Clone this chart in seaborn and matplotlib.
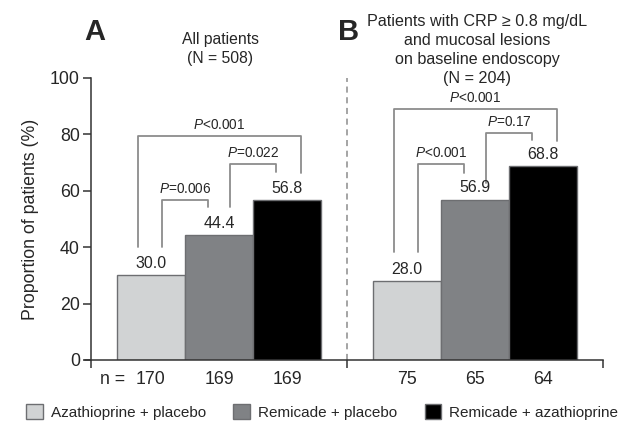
import matplotlib
matplotlib.use("Agg")
import matplotlib.pyplot as plt
import numpy as np
import pandas as pd
import seaborn as sns

# values
treatments = ["Azathioprine + placebo", "Remicade + placebo", "Remicade + azathioprine"]
panels = ["A", "B"]
panel_titles = ["All patients\n(N = 508)",
                "Patients with CRP \u2265 0.8 mg/dL\nand mucosal lesions\non baseline endoscopy\n(N = 204)"]
proportions_a = [30.0, 44.4, 56.8]
proportions_b = [28.0, 56.9, 68.8]
n_a = [170, 169, 169]
n_b = [75, 65, 64]
pvals_a = ["<0.001", "=0.006", "=0.022"]
pvals_b = ["<0.001", "<0.001", "=0.17"]

colors = ["#d1d3d4", "#808285", "#000000"]
bracket_col = "#8c8c8c"

# bracket layout per panel: (left bar, right bar, top, left foot, right foot)
bracket_layout = [
    [(0, 2, 79.4, 40.1, 66.4), (0, 1, 56.7, 40.1, 54.3), (1, 2, 69.5, 54.3, 66.6)],
    [(0, 2, 89.0, 38.3, 77.8), (0, 1, 69.5, 38.3, 66.3), (1, 2, 80.5, 62.8, 78.0)],
]

sns.set_style("ticks")
plt.rcParams["font.family"] = ["Liberation Sans", "DejaVu Sans"]
plt.rcParams["mathtext.fontset"] = "custom"
plt.rcParams["mathtext.rm"] = "Liberation Sans"
plt.rcParams["mathtext.it"] = "Liberation Sans:italic"

# build the long table, bars sit at k + 0.875 inside each half of width 3.75
rows = []
for g, (vals, ns) in enumerate([(proportions_a, n_a), (proportions_b, n_b)]):
    for k, (t, v, n) in enumerate(zip(treatments, vals, ns)):
        rows.append({"panel": panels[g], "treatment": t, "value": v, "n": n,
                     "pos": g * 3.75 + k + 0.875})
df = pd.DataFrame(rows)

fig = plt.figure(figsize=(6.28, 4.32), dpi=100)
ax = fig.add_axes([85 / 628, 1 - 360 / 432, (603 - 85) / 628, (360 - 78) / 432])

sns.barplot(data=df, x="pos", y="value", hue="treatment", hue_order=treatments,
            palette=colors, native_scale=True, dodge=False, width=1.0,
            edgecolor="#6d6e71", linewidth=1.0, saturation=1, ax=ax)

for cont in ax.containers:
    ax.bar_label(cont, fmt="%.1f", padding=3, fontsize=11.5)

ax.set_xlim(-0.088, 7.5)
ax.set_ylim(0, 100)
ax.spines["top"].set_visible(False)
ax.spines["right"].set_visible(False)
ax.spines["left"].set_position(("data", 0))
ax.spines["left"].set_bounds(0, 100)
for s in ["left", "bottom"]:
    ax.spines[s].set_color("#333333")
    ax.spines[s].set_linewidth(1.1)

ax.set_yticks(np.arange(0, 101, 20))
ax.tick_params(axis="y", labelsize=12.8, length=6, width=1.1, color="#333333", pad=2)
ax.set_xticks(df["pos"])
ax.set_xticklabels(df["n"].astype(str))
ax.tick_params(axis="x", which="major", length=0, pad=8, labelsize=12.8)
ax.set_xticks([0, 3.75, 7.5], minor=True)
ax.tick_params(axis="x", which="minor", length=6, width=1.1, color="#333333", direction="out")
ax.text(0.875 - 0.3, -4.0, "n = ", ha="right", va="top", fontsize=12.8)

ax.set_xlabel("")
ax.set_ylabel("Proportion of patients (%)", fontsize=12.8, labelpad=8)

# dashed separator between the two panels
ax.axvline(3.75, color="#8c8c8c", lw=1.1, ls=(0, (4, 3)), zorder=0)

# significance brackets
for g, (layout, pv) in enumerate(zip(bracket_layout, [pvals_a, pvals_b])):
    for (i, j, top, yl, yr), lab in zip(layout, pv):
        outer = (j - i) == 2
        xl = g * 3.75 + i + 0.875 + (-0.19 if outer else 0.16)
        xr = g * 3.75 + j + 0.875 + (0.2 if outer else -0.16)
        ax.plot([xl, xl, xr, xr], [yl, top, top, yr], color=bracket_col, lw=1.3,
                clip_on=False, zorder=1)
        ax.text((xl + xr) / 2, top + 1.3, r"$\it{P}$" + lab, ha="center", va="bottom",
                fontsize=9.8)

# panel letters and titles
fig.text(95 / 628, 1 - 32 / 432, "A", fontsize=21, fontweight="bold", ha="center", va="center")
fig.text(349 / 628, 1 - 32 / 432, "B", fontsize=21, fontweight="bold", ha="center", va="center")
fig.text(220 / 628, 1 - 49 / 432, panel_titles[0], fontsize=11.3, ha="center", va="center",
         linespacing=1.4)
fig.text(477 / 628, 1 - 50 / 432, panel_titles[1], fontsize=11.6, ha="center", va="center",
         linespacing=1.35)

sns.move_legend(ax, "center", bbox_to_anchor=(0.513, 0.046), bbox_transform=fig.transFigure,
                ncol=3, frameon=False, title=None, fontsize=11, handlelength=1.1,
                handleheight=1.1, handletextpad=0.5, columnspacing=1.8)

fig.savefig("out.png", dpi=100)
